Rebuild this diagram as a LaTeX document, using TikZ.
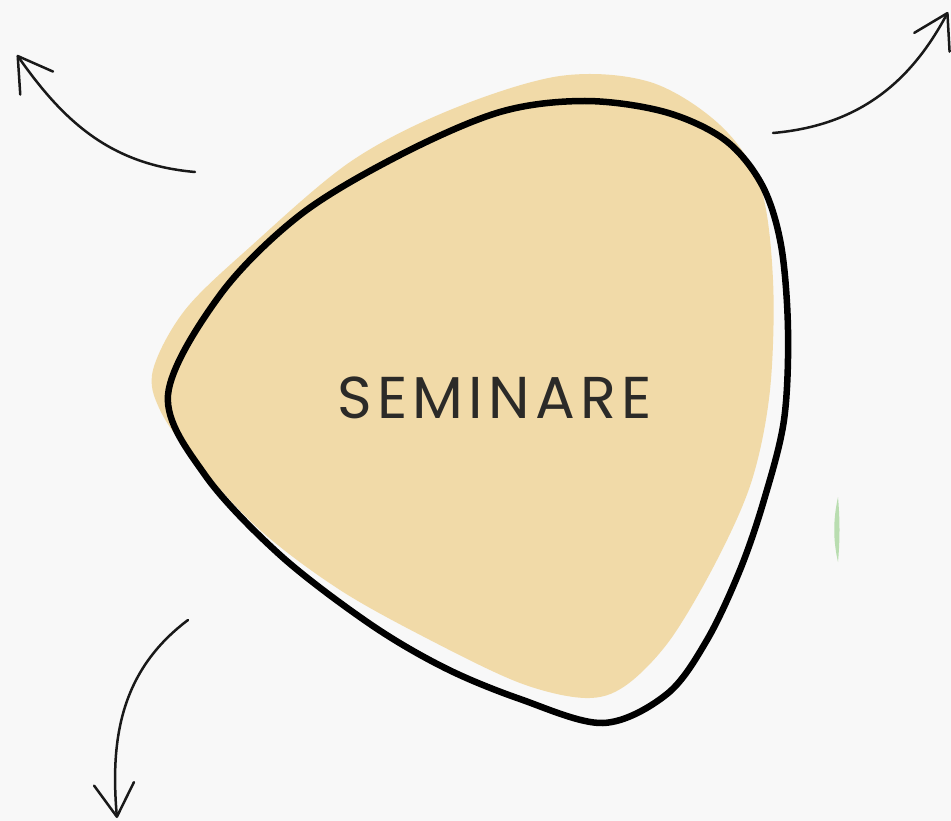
\documentclass[tikz,border=0pt]{standalone}
\usepackage{fontspec}
\usepackage{xcolor}
\usepackage{tikz}
\usetikzlibrary{arrows.meta}
\newfontfamily\titlefont[LetterSpace=9]{Poppins}
\definecolor{paper}{HTML}{F8F8F8}
\definecolor{sand}{HTML}{F1DAA8}
\definecolor{ink}{HTML}{2B2A28}
\definecolor{leaf}{HTML}{B9DDB0}

\begin{document}
\begin{tikzpicture}[
  x=1pt,y=1pt,
  blob/.style={fill=sand,draw=none},
  rim/.style={draw=black,line width=6.5pt,line join=round},
  tag/.style={font=\titlefont\fontsize{59}{59}\selectfont,text=ink,inner sep=0pt,anchor=base},
  sketch/.style={draw=black!90,line width=2.5pt,line cap=round,
    -{Straight Barb[length=33pt,width=40pt,line width=2.5pt,round]}}
]
\useasboundingbox (0,0) rectangle (951,-821);
\fill[paper] (0,0) rectangle (951,-821);

% yellow patch behind the outline
\path[blob] plot[smooth cycle,tension=0.55] coordinates {
  (153,-370) (185,-310) (250,-247) (350,-162) (450,-110) (560,-76) (650,-82)
  (720,-125) (760,-185) (773,-280) (770,-390) (752,-480) (717,-560) (670,-640)
  (625,-686) (585,-698) (520,-683) (430,-640) (340,-590) (260,-530) (195,-460)
  (160,-410)};

% hand drawn outline
\draw[rim] plot[smooth cycle,tension=0.55] coordinates {
  (168,-395) (205,-475) (280,-555) (370,-624) (445,-668) (520,-699) (603,-723)
  (667,-694) (707,-640) (740,-570) (764,-500) (784,-420) (788,-330) (781,-245)
  (762,-185) (725,-140) (665,-112) (585,-101) (500,-112) (400,-155) (300,-215)
  (220,-295)};

% green sliver on the right
\fill[leaf] (838,-497) .. controls (833,-520) and (833,-540) .. (838,-562)
  .. controls (840,-540) and (840,-520) .. cycle;

\node[tag] (title) at (494.5,-418) {SEMINARE};

% arrows
\coordinate (nwTail) at (195,-172);
\coordinate (nwTip) at (17,-55);
\coordinate (neTail) at (773,-133);
\coordinate (neTip) at (948,-12);
\coordinate (swTail) at (188,-620);
\coordinate (swTip) at (117,-818);
\draw[sketch] (nwTail) to[out=175,in=-55] (nwTip);
\draw[sketch] (neTail) to[out=5,in=-118] (neTip);
\draw[sketch] (swTail) to[out=217,in=95] (swTip);
\end{tikzpicture}
\end{document}
